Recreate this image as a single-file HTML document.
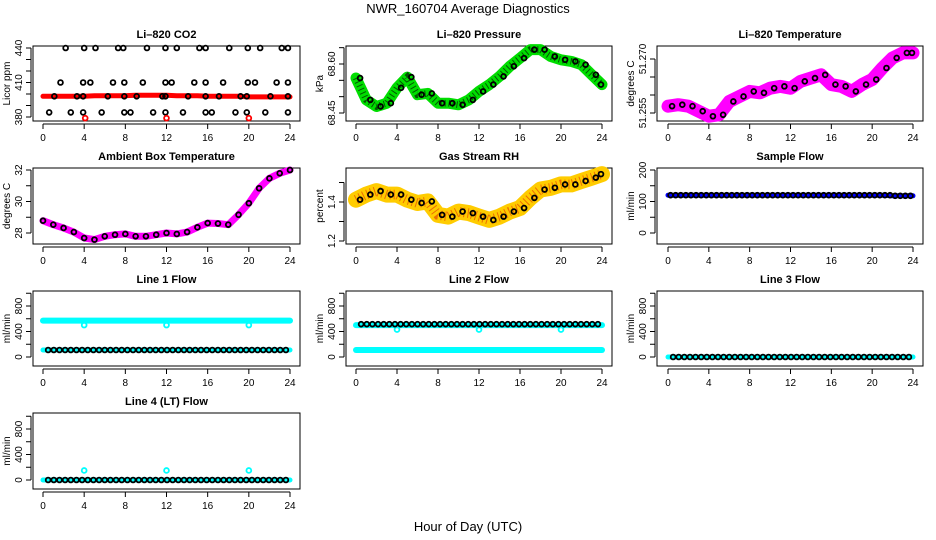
<!DOCTYPE html>
<html><head><meta charset="utf-8"><style>
body{margin:0;background:#fff}
svg{display:block;font-family:"Liberation Sans",sans-serif}
</style></head><body>
<svg id="c" width="936" height="540" viewBox="0 0 936 540">
<text x="468" y="13" text-anchor="middle" font-size="13">NWR_160704  Average Diagnostics</text>
<text x="468" y="531" text-anchor="middle" font-size="13">Hour of Day (UTC)</text>
</svg>
<script>
// ---- data ----
const hours = [0,1,2,3,4,5,6,7,8,9,10,11,12,13,14,15,16,17,18,19,20,21,22,23,24];
const co2Band = [398,398,398,398,398,398.5,398.5,398.5,398.5,399,399,399,399,398.5,398.5,398.5,398,398,398,398,397.5,397.5,397.5,397.5,397.5];
const co2TopX = [2.2,4,5.1,7.3,7.8,10.1,11.9,13,15.2,15.8,18.1,19.9,21.1,23.2,23.8];
const co2MidX = [1.7,3.9,4.6,6.8,7.9,9.7,11.9,12.5,14.7,15.8,17.5,19.9,20.6,22.7,23.8];
const co2BandX = [1.1,3.3,3.9,6.3,7.9,9.1,11.6,11.9,14.1,15.8,17.1,19.2,19.8,22.1,23.8];
const co2LowX = [0.6,2.7,3.9,5.7,7.9,8.5,10.7,11.9,13.6,15.8,16.4,18.7,19.8,21.6,23.8];
const co2Levels = [440,410,398,384];
const co2RedOutX = [4.1,12,20];
const co2RedOut = 379;
const pressure = [68.557,68.49,68.47,68.48,68.527,68.56,68.506,68.51,68.48,68.48,68.475,68.49,68.516,68.537,68.562,68.593,68.618,68.644,68.644,68.623,68.613,68.608,68.598,68.567,68.537];
const licorTemp = [51.2569,51.2573,51.2569,51.2555,51.2541,51.2545,51.2582,51.2596,51.2610,51.2606,51.2619,51.2624,51.2619,51.2638,51.2647,51.2656,51.2629,51.2624,51.2610,51.2629,51.2643,51.2675,51.2703,51.2717,51.2717];
const ambient = [28.78,28.53,28.32,28.06,27.68,27.58,27.79,27.89,27.94,27.79,27.79,27.89,28.0,27.94,28.06,28.36,28.63,28.6,28.53,29.16,29.89,30.84,31.47,31.79,32.0];
const rh = [1.412,1.438,1.456,1.438,1.438,1.412,1.395,1.403,1.334,1.325,1.351,1.343,1.325,1.308,1.325,1.351,1.369,1.421,1.464,1.473,1.49,1.49,1.508,1.525,1.543];
const sampleFlow = [120,120,120,120,120,120,120,120,120,120,120,120,120,120,120,120,120,120,120,120,120,120,118,118,118];
const line1Cyan = 570, line1Black = 110;
const line2Cyan = 500, line2Black = 515, line2Low = 110;
const line3Flow = 0;
const line4Flow = 0, line4OutX = [4,12,20], line4Out = 150;
const cyanDipX = [4,12,20];

// ---- layout ----
const cols=[{l:33,r:300,x0:43,x24:290},{l:346,r:612,x0:356,x24:602},{l:657,r:923,x0:668,x24:913}];
const rows=[{t:46,b:121},{t:168,b:244},{t:291,b:366},{t:413,b:489}];
const svg=document.getElementById('c');
const NS='http://www.w3.org/2000/svg';
function mk(tag,at,parent){const e=document.createElementNS(NS,tag);for(const k in at)e.setAttribute(k,at[k]);(parent||svg).appendChild(e);return e;}

function panel(name,title,ci,ri,v0,p0,v1,p1,ticks,labels,ytitle){
  const c=cols[ci],r=rows[ri];
  const g=mk('g',{});
  
  
  const X=h=>c.x0+h*(c.x24-c.x0)/24;
  const Y=v=>p0+(v-v0)*(p1-p0)/(v1-v0);
  const t=mk('text',{x:(c.l+c.r)/2,y:r.t-8,'text-anchor':'middle','font-size':11,'font-weight':'bold'},g);t.textContent=title;
  
  
  const box=mk('rect',{x:c.l,y:r.t,width:c.r-c.l,height:r.b-r.t,fill:'none',stroke:'#000','stroke-width':1},g);
  
  
  const ax=mk('g',{},g);
  
  
  mk('line',{x1:X(0),x2:X(24),y1:r.b+3,y2:r.b+3,stroke:'#000'},ax);
  for(let h=0;h<=24;h+=4){
    mk('line',{x1:X(h),x2:X(h),y1:r.b+3,y2:r.b+8,stroke:'#000'},ax);
    const tl=mk('text',{x:X(h),y:r.b+20,'text-anchor':'middle','font-size':10},ax);tl.textContent=h;
  }
  const ay=mk('g',{},g);
  
  
  mk('line',{x1:c.l-2,x2:c.l-2,y1:Y(ticks[0]),y2:Y(ticks[ticks.length-1]),stroke:'#000'},ay);
  ticks.forEach(v=>mk('line',{x1:c.l-7,x2:c.l-2,y1:Y(v),y2:Y(v),stroke:'#000'},ay));
  labels.forEach(v=>{const y=Y(v);const tl=mk('text',{x:c.l-11,y:y,'text-anchor':'middle','font-size':10,transform:`rotate(-90 ${c.l-11} ${y})`},ay);tl.textContent=String(v);});
  const yt=mk('text',{x:c.l-23,y:(r.t+r.b)/2,'text-anchor':'middle','font-size':10,transform:`rotate(-90 ${c.l-23} ${(r.t+r.b)/2})`},g);yt.textContent=ytitle;
  
  
  return {g,X,Y};
}
function band(p,xs,vals,color,w,name,dots){
  const d=xs.map((h,i)=>(i?'L':'M')+p.X(h).toFixed(1)+' '+p.Y(vals[i]).toFixed(1)).join(' ');
  const b=mk('path',{d:d,fill:'none',stroke:color,'stroke-width':w,'stroke-linecap':'round','stroke-linejoin':'round'},p.g);
  
  
  if(dots){mk('path',{d:d,fill:'none',stroke:dots,'stroke-width':w*0.6,'stroke-dasharray':'1 3','stroke-linecap':'butt',opacity:0.6},p.g);}
}
function pt(p,h,v,color,name){
  const e=mk('circle',{cx:p.X(h),cy:p.Y(v),r:2.4,fill:'none',stroke:color,'stroke-width':1.8},p.g);
  
  
}
function hline(p,v,color,w,name){
  const e=mk('line',{x1:p.X(0),x2:p.X(24),y1:p.Y(v),y2:p.Y(v),stroke:color,'stroke-width':w,'stroke-linecap':'round'},p.g);
  
  
}
function blackRow(p,v,name){for(let h=0.5;h<=23.9;h+=0.55)pt(p,h,v,'#000',name);}

let p=panel('co2-panel','Li\u2013820 CO2',0,0,380,117,440,48,[380,390,400,410,420,430,440],[380,410,440],'Licor ppm');
band(p,hours,co2Band,'#ff0000',5,'co2-band');
[co2TopX,co2MidX,co2BandX,co2LowX].forEach((xs,k)=>xs.forEach(h=>pt(p,h,co2Levels[k],'#000','co2-point')));
co2RedOutX.forEach(h=>pt(p,h,co2RedOut,'#ff0000','co2-outlier'));

p=panel('pressure-panel','Li\u2013820 Pressure',1,0,68.45,113,68.60,64,[68.45,68.5,68.55,68.6,68.65],['68.45','68.60'],'kPa');
band(p,hours,pressure,'#00dd00',11,'pressure-band','#000');
hours.forEach((h,i)=>pt(p,Math.min(h+0.4,23.9),pressure[i],'#000','pressure-point'));

p=panel('licor-temp-panel','Li\u2013820 Temperature',2,0,51.255,113,51.270,59,[51.255,51.26,51.265,51.27],['51.255','51.270'],'degrees C');
band(p,hours,licorTemp,'#ff00ff',13,'licor-temp-band');
hours.forEach((h,i)=>pt(p,Math.min(h+0.4,23.9),licorTemp[i],'#000','licor-temp-point'));

p=panel('ambient-panel','Ambient Box Temperature',0,1,28,233,32,170,[28,29,30,31,32],[28,30,32],'degrees C');
band(p,hours,ambient,'#ff00ff',7,'ambient-band');
hours.forEach((h,i)=>{pt(p,h,ambient[i],'#000','ambient-point');});

p=panel('rh-panel','Gas Stream RH',1,1,1.2,241,1.4,202,[1.2,1.3,1.4,1.5],['1.2','1.4'],'percent');
band(p,hours,rh,'#ffcc00',16,'rh-band','#e03000');
hours.forEach((h,i)=>pt(p,Math.min(h+0.4,23.9),rh[i],'#000','rh-point'));

p=panel('sample-flow-panel','Sample Flow',2,1,0,233,200,170,[0,50,100,150,200],[0,100,200],'ml/min');
band(p,hours,sampleFlow,'#0000ff',5,'sample-flow-band');
hours.forEach((h,i)=>{if(h<24){pt(p,h+0.25,sampleFlow[i],'#000','sample-flow-point');pt(p,h+0.75,sampleFlow[i],'#000','sample-flow-point');}});

const fl=[0,200,400,600,800,1000],fll=[0,400,800];
p=panel('line1-panel','Line 1 Flow',0,2,0,357,800,306,fl,fll,'ml/min');
hline(p,line1Cyan,'#00ffff',6,'line1-cyan-band');
cyanDipX.forEach(h=>pt(p,h,line1Cyan-70,'#00ffff','line1-cyan-dip'));
hline(p,line1Black,'#00ffff',5,'line1-low-cyan');
blackRow(p,line1Black,'line1-point');

p=panel('line2-panel','Line 2 Flow',1,2,0,357,800,306,fl,fll,'ml/min');
hline(p,line2Cyan,'#00ffff',6,'line2-cyan-band');
cyanDipX.forEach(h=>pt(p,h,line2Cyan-70,'#00ffff','line2-cyan-dip'));
hline(p,line2Low,'#00ffff',6,'line2-low-cyan');
blackRow(p,line2Black,'line2-point');

p=panel('line3-panel','Line 3 Flow',2,2,0,357,800,306,fl,fll,'ml/min');
hline(p,line3Flow,'#00ffff',5,'line3-cyan');
blackRow(p,line3Flow,'line3-point');

p=panel('line4-panel','Line 4 (LT) Flow',0,3,0,480,800,429,fl,fll,'ml/min');
hline(p,line4Flow,'#00ffff',5,'line4-cyan');
line4OutX.forEach(h=>pt(p,h,line4Out,'#00ffff','line4-outlier'));
blackRow(p,line4Flow,'line4-point');
</script>
</body></html>
